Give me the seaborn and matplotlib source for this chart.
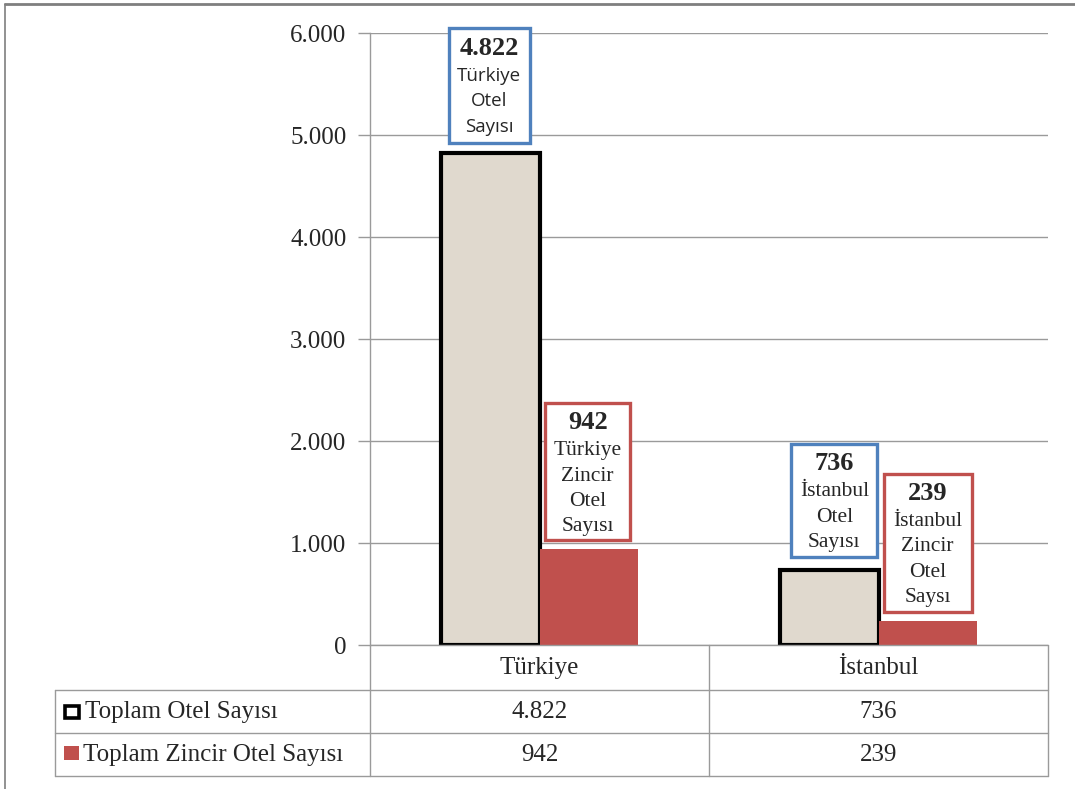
import matplotlib
matplotlib.use("Agg")
import matplotlib.pyplot as plt
from matplotlib.patches import Rectangle
from matplotlib.lines import Line2D
import seaborn as sns
import pandas as pd

# --- data -------------------------------------------------------------
regions = ["Türkiye", "İstanbul"]
series = ["Toplam Otel Sayısı", "Toplam Zincir Otel Sayısı"]
total_hotels = [4822, 736]
chain_hotels = [942, 239]
value_labels = {
    (0, 0): ["4.822", "Türkiye", "Otel", "Sayısı"],
    (1, 0): ["942", "Türkiye", "Zincir", "Otel", "Sayısı"],
    (0, 1): ["736", "İstanbul", "Otel", "Sayısı"],
    (1, 1): ["239", "İstanbul", "Zincir", "Otel", "Saysı"],
}
yticks = [0, 1000, 2000, 3000, 4000, 5000, 6000]
ytick_labels = ["0", "1.000", "2.000", "3.000", "4.000", "5.000", "6.000"]

df = pd.DataFrame({
    "Bölge": regions * 2,
    "Seri": [series[0]] * 2 + [series[1]] * 2,
    "Sayı": total_hotels + chain_hotels,
})

# --- style ------------------------------------------------------------
sns.set_theme(style="white")
plt.rcParams["font.family"] = ["Liberation Serif", "DejaVu Serif"]

BEIGE = "#E0D9CE"
RED = "#C0504D"
BLUE = "#4F81BD"
GRID = "#9A9A9A"
FS = 18

W, H = 1075, 789
fig = plt.figure(figsize=(W / 100, H / 100), dpi=100)
fig.patch.set_facecolor("white")


def fx(px):
    return px / W


def fy(py):
    return 1 - py / H


ax = fig.add_axes([fx(370), fy(645), fx(1048) - fx(370), fy(33) - fy(645)])

sns.barplot(data=df, x="Bölge", y="Sayı", hue="Seri", order=regions,
            hue_order=series, palette=[BEIGE, RED], width=0.58, gap=0,
            saturation=1, legend=False, ax=ax)

for bar in ax.containers[0]:
    bar.set_edgecolor("black")
    bar.set_linewidth(3.0)
    bar.set_zorder(3)
for bar in ax.containers[1]:
    bar.set_linewidth(0)
    bar.set_zorder(4)

ax.set_xlim(-0.5, 1.5)
ax.set_ylim(0, 6000)
ax.set_yticks(yticks)
ax.set_yticklabels(ytick_labels, fontsize=FS)
ax.set_xticks([])
ax.set_xlabel("")
ax.set_ylabel("")
ax.yaxis.grid(True, color=GRID, linewidth=1)
ax.set_axisbelow(True)
ax.tick_params(axis="y", length=9, width=1, color=GRID, pad=8, left=True)
for s in ["top", "right", "bottom"]:
    ax.spines[s].set_visible(False)
ax.spines["left"].set_color(GRID)
ax.spines["left"].set_linewidth(1)

# --- value call-out boxes ---------------------------------------------
fig.canvas.draw()
box_sizes = {(0, 0): (81, 115), (1, 0): (85, 137), (0, 1): (86, 113), (1, 1): (88, 138)}
box_shift = {(0, 0): -1, (1, 0): -1, (0, 1): 5, (1, 1): 0}
box_gap = {(0, 0): 10, (1, 0): 9, (0, 1): 13, (1, 1): 9}
edge_colors = [BLUE, RED]
for si, container in enumerate(ax.containers):
    for ci, bar in enumerate(container):
        cx = bar.get_x() + bar.get_width() / 2
        top = bar.get_height()
        px, py = ax.transData.transform((cx, top))
        py_img = H - py
        bw, bh = box_sizes[(si, ci)]
        bx = px + box_shift[(si, ci)] - bw / 2
        bottom = py_img - box_gap[(si, ci)]
        btop = bottom - bh
        fig.add_artist(Rectangle((fx(bx), fy(bottom)), fx(bw), fy(btop) - fy(bottom),
                                 transform=fig.transFigure, facecolor="white",
                                 edgecolor=edge_colors[si], linewidth=2.4, zorder=6))
        lines = value_labels[(si, ci)]
        tx = fx(bx + bw / 2)
        fig.text(tx, fy(btop + 20), lines[0], ha="center", va="center",
                 fontsize=19, fontweight="bold", zorder=7)
        sans = (si == 0 and ci == 0)
        for k, line in enumerate(lines[1:]):
            fig.text(tx, fy(btop + 48 + 25.3 * k), line, ha="center", va="center",
                     fontsize=13.5 if sans else 15.5,
                     family=["Open Sans", "DejaVu Sans"] if sans else ["Liberation Serif", "DejaVu Serif"],
                     zorder=7)

# --- data table -------------------------------------------------------
def hline(y, x0, x1):
    fig.add_artist(Line2D([fx(x0), fx(x1)], [fy(y), fy(y)], color=GRID, lw=1,
                          transform=fig.transFigure))


def vline(x, y0, y1):
    fig.add_artist(Line2D([fx(x), fx(x)], [fy(y0), fy(y1)], color=GRID, lw=1,
                          transform=fig.transFigure))


hline(645, 370, 1048)
hline(690, 55, 1048)
hline(733, 55, 1048)
hline(776, 55, 1048)
vline(370, 645, 776)
vline(709, 645, 776)
vline(1048, 645, 776)
vline(55, 690, 776)

col_x = [ax.transData.transform((i, 0))[0] for i in range(len(regions))]
for i, name in enumerate(regions):
    fig.text(fx(col_x[i]), fy(668), name, ha="center", va="center", fontsize=FS)
    fig.text(fx(col_x[i]), fy(712), f"{total_hotels[i]:,}".replace(",", "."),
             ha="center", va="center", fontsize=FS)
    fig.text(fx(col_x[i]), fy(755), f"{chain_hotels[i]:,}".replace(",", "."),
             ha="center", va="center", fontsize=FS)

# legend keys inside the table
fig.add_artist(Rectangle((fx(65), fy(718)), fx(14), fy(706) - fy(718),
                         transform=fig.transFigure, facecolor="white",
                         edgecolor="black", linewidth=2.6))
fig.add_artist(Rectangle((fx(64), fy(760)), fx(15), fy(746) - fy(760),
                         transform=fig.transFigure, facecolor=RED, edgecolor="none"))
fig.text(fx(85), fy(712), series[0], ha="left", va="center", fontsize=FS)
fig.text(fx(83), fy(755), series[1], ha="left", va="center", fontsize=FS)

# page frame
fig.add_artist(Line2D([fx(5), 1], [fy(3.5), fy(3.5)], color="#7F7F7F", lw=2,
                      transform=fig.transFigure))
fig.add_artist(Line2D([fx(5), fx(5)], [fy(3.5), 0], color="#7F7F7F", lw=1.2,
                      transform=fig.transFigure))

fig.savefig("out.png", dpi=100, facecolor="white")
